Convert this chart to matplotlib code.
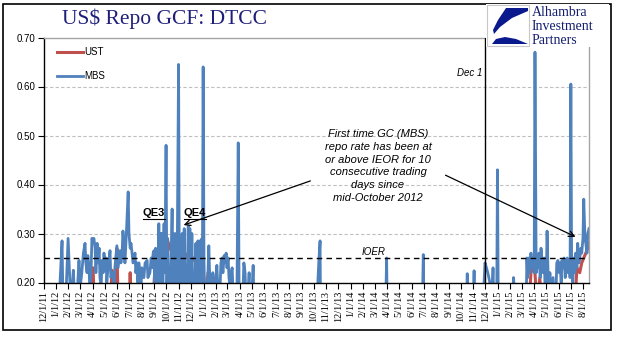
import numpy as np
import pandas as pd
import matplotlib
matplotlib.use("Agg")
import matplotlib.pyplot as plt
import matplotlib.dates as mdates
from matplotlib.patches import Rectangle, Polygon
from matplotlib.ticker import FuncFormatter

# MBS GCF repo rate (daily, values below 0.20 fall off the chart)
mbs_2012a = [
    ("2011-12-01", 0.12), ("2012-01-06", 0.14), ("2012-01-11", 0.20), ("2012-01-16", 0.285),
    ("2012-01-18", 0.18), ("2012-01-26", 0.18), ("2012-01-31", 0.29), ("2012-02-06", 0.17),
    ("2012-02-10", 0.19), ("2012-02-13", 0.225), ("2012-02-15", 0.19), ("2012-02-20", 0.17),
    ("2012-02-24", 0.20), ("2012-02-27", 0.245), ("2012-03-01", 0.19), ("2012-03-05", 0.22),
    ("2012-03-09", 0.26), ("2012-03-13", 0.28), ("2012-03-15", 0.24), ("2012-03-18", 0.22),
    ("2012-03-20", 0.255), ("2012-03-23", 0.23), ("2012-03-25", 0.18), ("2012-03-28", 0.22),
    ("2012-03-30", 0.29), ("2012-04-02", 0.285), ("2012-04-04", 0.29), ("2012-04-07", 0.27),
    ("2012-04-09", 0.22), ("2012-04-12", 0.28), ("2012-04-14", 0.24), ("2012-04-17", 0.27),
    ("2012-04-19", 0.21), ("2012-04-22", 0.19), ("2012-04-24", 0.245), ("2012-04-27", 0.22),
    ("2012-04-29", 0.26), ("2012-05-02", 0.23), ("2012-05-04", 0.25), ("2012-05-06", 0.20),
    ("2012-05-09", 0.23), ("2012-05-14", 0.265), ("2012-05-16", 0.21), ("2012-05-21", 0.22),
    ("2012-05-24", 0.19), ("2012-05-26", 0.23), ("2012-05-31", 0.275), ("2012-06-03", 0.23),
    ("2012-06-08", 0.265), ("2012-06-10", 0.24), ("2012-06-13", 0.26), ("2012-06-15", 0.305),
    ("2012-06-18", 0.27), ("2012-06-20", 0.24), ("2012-06-23", 0.29), ("2012-06-28", 0.385),
    ("2012-06-30", 0.30), ("2012-07-03", 0.27), ("2012-07-05", 0.28), ("2012-07-07", 0.265),
    ("2012-07-10", 0.24), ("2012-07-15", 0.26), ("2012-07-17", 0.22), ("2012-07-20", 0.24),
    ("2012-07-22", 0.20), ("2012-07-25", 0.24), ("2012-07-27", 0.22), ("2012-07-30", 0.19),
    ("2012-08-01", 0.23), ("2012-08-06", 0.21), ("2012-08-09", 0.24), ("2012-08-14", 0.245),
    ("2012-08-16", 0.21), ("2012-08-21", 0.22), ("2012-08-24", 0.25), ("2012-08-26", 0.23),
    ("2012-08-29", 0.26), ("2012-08-31", 0.265),
]
mbs_2012b = [
    ("2012-09-02", 0.19), ("2012-09-04", 0.27), ("2012-09-06", 0.18), ("2012-09-08", 0.17),
    ("2012-09-10", 0.19), ("2012-09-12", 0.32), ("2012-09-14", 0.20), ("2012-09-16", 0.30),
    ("2012-09-18", 0.18), ("2012-09-20", 0.30), ("2012-09-22", 0.19), ("2012-09-25", 0.32),
    ("2012-09-27", 0.22), ("2012-09-30", 0.48), ("2012-10-02", 0.18), ("2012-10-04", 0.29),
    ("2012-10-06", 0.19), ("2012-10-08", 0.18), ("2012-10-11", 0.19), ("2012-10-15", 0.35),
    ("2012-10-17", 0.18), ("2012-10-19", 0.30), ("2012-10-22", 0.18), ("2012-10-24", 0.30),
    ("2012-10-27", 0.17), ("2012-10-31", 0.645), ("2012-11-02", 0.18), ("2012-11-05", 0.29),
    ("2012-11-07", 0.19), ("2012-11-09", 0.30), ("2012-11-12", 0.19), ("2012-11-14", 0.31),
    ("2012-11-16", 0.18), ("2012-11-19", 0.17), ("2012-11-21", 0.19), ("2012-11-24", 0.315),
    ("2012-11-26", 0.20), ("2012-11-28", 0.31), ("2012-12-01", 0.19), ("2012-12-03", 0.30),
    ("2012-12-05", 0.18), ("2012-12-08", 0.17), ("2012-12-10", 0.18), ("2012-12-13", 0.28),
    ("2012-12-15", 0.20), ("2012-12-18", 0.285), ("2012-12-20", 0.19), ("2012-12-23", 0.285),
    ("2012-12-25", 0.19), ("2012-12-28", 0.29), ("2012-12-29", 0.20), ("2012-12-31", 0.64),
]
mbs_2013 = [
    ("2013-01-02", 0.25), ("2013-01-04", 0.15), ("2013-01-09", 0.18), ("2013-01-12", 0.22),
    ("2013-01-14", 0.275), ("2013-01-17", 0.19), ("2013-01-22", 0.17), ("2013-01-24", 0.22),
    ("2013-01-27", 0.19), ("2013-02-01", 0.21), ("2013-02-03", 0.235), ("2013-02-06", 0.18),
    ("2013-02-11", 0.19), ("2013-02-13", 0.24), ("2013-02-16", 0.25), ("2013-02-18", 0.22),
    ("2013-02-21", 0.255), ("2013-02-23", 0.24), ("2013-02-26", 0.26), ("2013-02-28", 0.23),
    ("2013-03-03", 0.25), ("2013-03-05", 0.21), ("2013-03-08", 0.19), ("2013-03-10", 0.22),
    ("2013-03-13", 0.23), ("2013-03-15", 0.18), ("2013-03-22", 0.17), ("2013-03-25", 0.20),
    ("2013-03-28", 0.485), ("2013-03-30", 0.20), ("2013-04-04", 0.18), ("2013-04-09", 0.19),
    ("2013-04-11", 0.24), ("2013-04-14", 0.22), ("2013-04-16", 0.17), ("2013-04-21", 0.18),
    ("2013-04-24", 0.22), ("2013-04-26", 0.17), ("2013-05-01", 0.18), ("2013-05-04", 0.235),
    ("2013-05-06", 0.16), ("2013-05-11", 0.12), ("2013-10-07", 0.12), ("2013-10-14", 0.245),
    ("2013-10-17", 0.285), ("2013-10-18", 0.15), ("2013-10-21", 0.12),
]
mbs_2014 = [
    ("2014-03-28", 0.12), ("2014-03-31", 0.25), ("2014-04-02", 0.12), ("2014-06-27", 0.12),
    ("2014-06-30", 0.257), ("2014-07-02", 0.12), ("2014-10-15", 0.12), ("2014-10-17", 0.218),
    ("2014-10-19", 0.12), ("2014-10-31", 0.12), ("2014-11-03", 0.224), ("2014-11-05", 0.12),
    ("2014-11-25", 0.15), ("2014-11-30", 0.24), ("2014-12-02", 0.235), ("2014-12-07", 0.22),
    ("2014-12-12", 0.20), ("2014-12-17", 0.17), ("2014-12-20", 0.23), ("2014-12-22", 0.15),
    ("2014-12-29", 0.15), ("2014-12-31", 0.43),
]
mbs_2015 = [
    ("2015-01-02", 0.15), ("2015-02-07", 0.15), ("2015-02-09", 0.21), ("2015-02-12", 0.15),
    ("2015-03-12", 0.15), ("2015-03-14", 0.25), ("2015-03-16", 0.21), ("2015-03-19", 0.25),
    ("2015-03-21", 0.22), ("2015-03-24", 0.26), ("2015-03-26", 0.23), ("2015-03-29", 0.25),
    ("2015-04-01", 0.22), ("2015-04-03", 0.67), ("2015-04-06", 0.22), ("2015-04-08", 0.25),
    ("2015-04-11", 0.23), ("2015-04-13", 0.26), ("2015-04-16", 0.21), ("2015-04-18", 0.27),
    ("2015-04-21", 0.24), ("2015-04-23", 0.22), ("2015-04-26", 0.25), ("2015-04-28", 0.19),
    ("2015-05-01", 0.20), ("2015-05-03", 0.305), ("2015-05-06", 0.20), ("2015-05-08", 0.18),
    ("2015-05-10", 0.22), ("2015-05-13", 0.17), ("2015-05-18", 0.21), ("2015-05-21", 0.16),
    ("2015-05-25", 0.17), ("2015-05-27", 0.24), ("2015-05-30", 0.245), ("2015-06-02", 0.22),
    ("2015-06-04", 0.24), ("2015-06-07", 0.20), ("2015-06-09", 0.245), ("2015-06-12", 0.23),
    ("2015-06-14", 0.25), ("2015-06-17", 0.21), ("2015-06-19", 0.24), ("2015-06-22", 0.25),
    ("2015-06-24", 0.22), ("2015-06-27", 0.24), ("2015-06-29", 0.21), ("2015-07-01", 0.605),
    ("2015-07-03", 0.22), ("2015-07-06", 0.20), ("2015-07-08", 0.25), ("2015-07-11", 0.22),
    ("2015-07-13", 0.26), ("2015-07-16", 0.23), ("2015-07-18", 0.28), ("2015-07-21", 0.24),
    ("2015-07-23", 0.25), ("2015-07-26", 0.27), ("2015-07-28", 0.26), ("2015-07-31", 0.29),
    ("2015-08-02", 0.37), ("2015-08-05", 0.29), ("2015-08-07", 0.28), ("2015-08-10", 0.26),
    ("2015-08-12", 0.30), ("2015-08-15", 0.31),
]

# UST GCF repo rate
ust_rates = [
    ("2011-12-01", 0.10), ("2012-03-28", 0.15), ("2012-04-02", 0.23), ("2012-04-05", 0.15),
    ("2012-05-14", 0.15), ("2012-05-19", 0.225), ("2012-05-23", 0.15), ("2012-05-28", 0.16),
    ("2012-05-31", 0.27), ("2012-06-03", 0.16), ("2012-06-30", 0.15), ("2012-07-03", 0.22),
    ("2012-07-06", 0.15), ("2012-07-24", 0.15), ("2012-07-27", 0.21), ("2012-07-30", 0.15),
    ("2012-08-28", 0.15), ("2012-09-03", 0.24), ("2012-09-07", 0.25), ("2012-09-10", 0.25),
    ("2012-09-15", 0.26), ("2012-09-22", 0.28), ("2012-09-27", 0.285), ("2012-10-02", 0.29),
    ("2012-10-10", 0.27), ("2012-10-15", 0.26), ("2012-10-22", 0.25), ("2012-10-31", 0.22),
    ("2012-11-04", 0.24), ("2012-11-11", 0.25), ("2012-11-16", 0.26), ("2012-11-23", 0.25),
    ("2012-11-28", 0.24), ("2012-12-06", 0.25), ("2012-12-13", 0.24), ("2012-12-21", 0.23),
    ("2012-12-28", 0.23), ("2013-01-02", 0.21), ("2013-01-07", 0.15), ("2013-01-12", 0.22),
    ("2013-01-17", 0.15), ("2015-03-19", 0.15), ("2015-03-24", 0.22), ("2015-03-29", 0.23),
    ("2015-04-03", 0.22), ("2015-04-08", 0.15), ("2015-04-15", 0.21), ("2015-04-20", 0.15),
    ("2015-07-11", 0.15), ("2015-07-16", 0.23), ("2015-07-23", 0.22), ("2015-07-28", 0.24),
    ("2015-08-02", 0.25), ("2015-08-07", 0.26), ("2015-08-12", 0.27), ("2015-08-15", 0.28),
]

ioer = 0.25
dec1 = "2014-12-01"
y_ticks = [0.20, 0.30, 0.40, 0.50, 0.60, 0.70]

mbs = pd.DataFrame(mbs_2012a + mbs_2012b + mbs_2013 + mbs_2014 + mbs_2015, columns=["date", "rate"])
mbs["date"] = pd.to_datetime(mbs["date"])
ust = pd.DataFrame(ust_rates, columns=["date", "rate"])
ust["date"] = pd.to_datetime(ust["date"])

W, H = 618, 341
def fx(px): return px / W
def fy(py): return 1 - py / H
def axy(px, py): return ((px - 43.5) / 545.5, (282.5 - py) / 245)

fig = plt.figure(figsize=(W / 100, H / 100), dpi=100)
ax = fig.add_axes([fx(43.5), fy(282.5), 545.5 / W, 245 / H])

l_ust, = ax.plot(ust["date"], ust["rate"], color="#C0504D", lw=2.2, zorder=2, label="UST")
l_mbs, = ax.plot(mbs["date"], mbs["rate"], color="#4F81BD", lw=2.0, zorder=2.5, label="MBS")

ax.set_ylim(0.2, 0.7)
ax.set_xlim(pd.Timestamp("2011-12-01"), pd.Timestamp("2015-08-15"))
ax.set_yticks(y_ticks)
ax.yaxis.set_major_formatter(FuncFormatter(lambda v, p: f"{v:.2f}"))
ax.xaxis.set_major_locator(mdates.MonthLocator())
ax.xaxis.set_major_formatter(FuncFormatter(
    lambda v, p: (lambda d: f"{d.month}/{d.day}/{d.year % 100:02d}")(mdates.num2date(v))))

for y in y_ticks[1:-1]:
    ax.axhline(y, color="#BFBFBF", lw=0.8, ls=(0, (3, 2)), zorder=0)
ax.axhline(ioer, color="black", lw=1, ls=(0, (4, 3)), zorder=3)
ax.axvline(pd.Timestamp(dec1), color="black", lw=1, zorder=3)

for s in ["left", "bottom"]:
    ax.spines[s].set_color("black")
    ax.spines[s].set_linewidth(1)
for s in ["top", "right"]:
    ax.spines[s].set_color("#A6A6A6")
    ax.spines[s].set_linewidth(1)

ax.tick_params(axis="both", direction="out", length=4, width=0.8, color="black", pad=2)
for lab in ax.get_yticklabels():
    lab.set_fontsize(7)
    lab.set_family("Liberation Sans")
for lab in ax.get_xticklabels():
    lab.set_fontsize(7.5)
    lab.set_family("Liberation Serif")
    lab.set_rotation(90)

ax.legend(handles=[l_ust, l_mbs], loc="upper left", bbox_to_anchor=axy(57, 47),
          frameon=False, prop={"family": "Liberation Sans", "size": 7},
          handlelength=2.7, handletextpad=0.15, labelspacing=1.45, borderpad=0, borderaxespad=0)

# annotations
ax.text(*axy(378, 166), "First time GC (MBS)\nrepo rate has been at\nor above IEOR for 10\n"
        "consecutive trading\ndays since\nmid-October 2012",
        transform=ax.transAxes, ha="center", va="center", fontsize=8, style="italic",
        family="Liberation Sans", linespacing=1.35)
ax.annotate("", xy=axy(181, 226), xytext=axy(313, 180), xycoords="axes fraction",
            arrowprops=dict(arrowstyle="->", lw=0.9, color="black", mutation_scale=10))
ax.annotate("", xy=axy(578, 238), xytext=axy(443, 174), xycoords="axes fraction",
            arrowprops=dict(arrowstyle="->", lw=0.9, color="black", mutation_scale=10))
for name, cx, x0, x1 in [("QE3", 154, 143, 165), ("QE4", 195, 184, 206)]:
    ax.text(*axy(cx, 213), name, transform=ax.transAxes, ha="center", va="center",
            fontsize=8, fontweight="bold", family="Liberation Sans", zorder=5)
    ax.plot([axy(x0, 0)[0], axy(x1, 0)[0]], [axy(0, 219)[1]] * 2, transform=ax.transAxes,
            color="black", lw=0.8, zorder=5)
ax.text(*axy(374, 252), "IOER", transform=ax.transAxes, ha="center", va="center",
        fontsize=7, style="italic", family="Liberation Sans")
ax.text(*axy(482, 73), "Dec 1", transform=ax.transAxes, ha="right", va="center",
        fontsize=7, style="italic", family="Liberation Sans")

# title
fig.text(fx(164), fy(19), "US$ Repo GCF: DTCC", ha="center", va="center",
         fontsize=15.5, family="Liberation Serif", color="#1F1F7A")

# logo
fig.patches.append(Rectangle((fx(486), fy(47)), fx(609) - fx(486), fy(4) - fy(47),
                             transform=fig.transFigure, facecolor="white", edgecolor="none", zorder=10))
fig.patches.append(Rectangle((fx(487), fy(46)), fx(529) - fx(487), fy(5) - fy(46),
                             transform=fig.transFigure, facecolor="white", edgecolor="#C8C8C8",
                             lw=0.8, zorder=11))
navy = "#0A1A8C"
top_shape = [(506, 8), (528, 8), (528, 11), (512, 18), (500, 27), (494, 34), (493, 30), (498, 20)]
bot_shape = [(492, 44), (496, 39), (505, 37), (516, 39), (528, 44)]
for shp in [top_shape, bot_shape]:
    fig.patches.append(Polygon([(fx(a), fy(b)) for a, b in shp], closed=True,
                               transform=fig.transFigure, facecolor=navy, edgecolor="none", zorder=12))
for txt, py in [("Alhambra", 12.5), ("Investment", 26.5), ("Partners", 40.5)]:
    fig.text(fx(532), fy(py), txt, ha="left", va="center", fontsize=10,
             family="Liberation Serif", color="#141E6E", zorder=13)

# outer frame
fig.patches.append(Rectangle((fx(3), fy(330)), fx(611) - fx(3), fy(4) - fy(330),
                             transform=fig.transFigure, fill=False, edgecolor="black", lw=1.2, zorder=9))

fig.savefig("out.png", dpi=100)
